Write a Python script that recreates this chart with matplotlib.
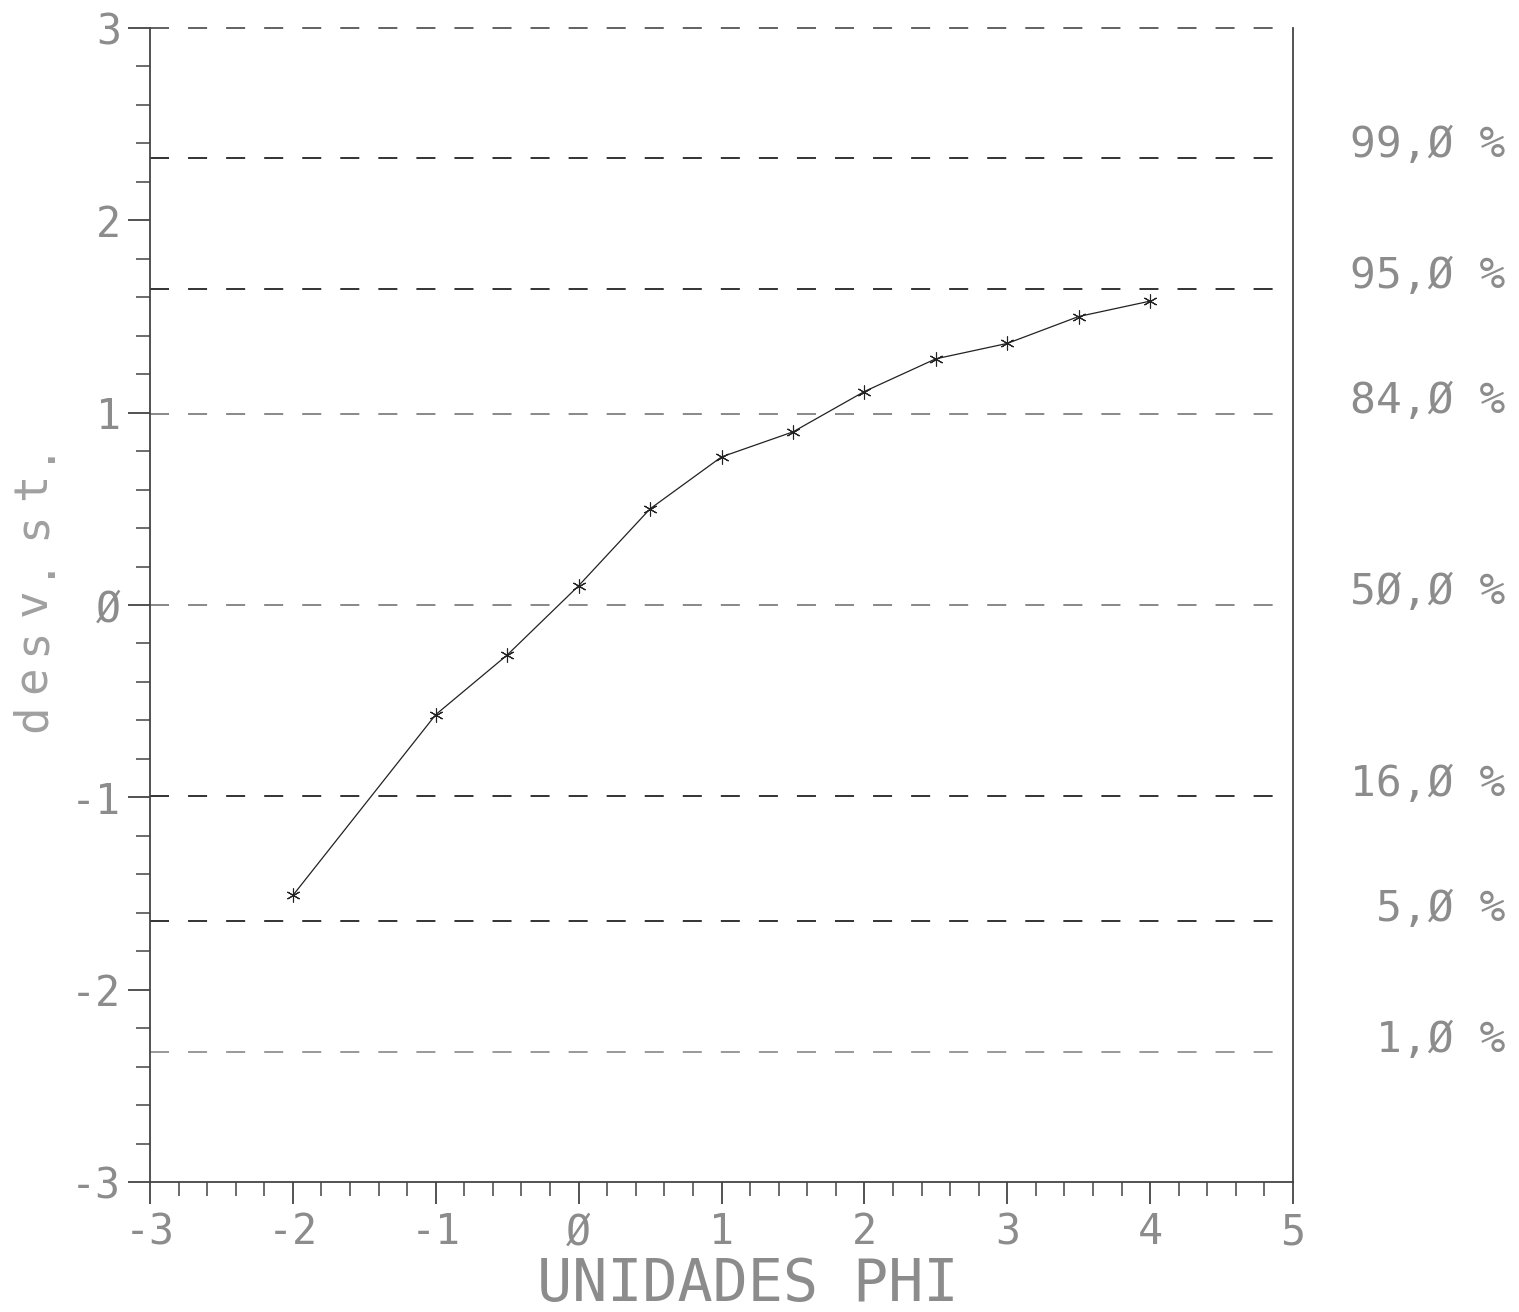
import matplotlib.pyplot as plt
from matplotlib.ticker import MultipleLocator, FixedLocator

# cumulative curve
phi = [-2, -1, -0.5, 0, 0.5, 1, 1.5, 2, 2.5, 3, 3.5, 4]
desv = [-1.51, -0.57, -0.26, 0.10, 0.50, 0.77, 0.90, 1.11, 1.28, 1.36, 1.50, 1.58]

# reference percentiles (in standard deviations)
pct_labels = ['99,Ø %', '95,Ø %', '84,Ø %', '5Ø,Ø %', '16,Ø %', '5,Ø %', '1,Ø %']
pct_z = [2.326, 1.645, 0.994, 0.0, -0.994, -1.645, -2.326]

xticks = [-3, -2, -1, 0, 1, 2, 3, 4, 5]
xticklabels = ['-3', '-2', '-1', 'Ø', '1', '2', '3', '4', '5']
yticks = [-3, -2, -1, 0, 1, 2, 3]
yticklabels = ['-3', '-2', '-1', 'Ø', '1', '2', '3']

mono = 'DejaVu Sans Mono'
txt_col = '#8c8c8c'
plt.rcParams['lines.scale_dashes'] = False
dash = (0, (13.7, 13.7))

fig = plt.figure(figsize=(15.19, 13.12), dpi=100)
ax = fig.add_axes([150 / 1519, 1 - 1182 / 1312, (1293 - 150) / 1519, (1182 - 28) / 1312])
ax.set_xlim(-3, 5)
ax.set_ylim(-3, 3)

# dashed percentile lines (plus the top one at 3)
line_cols = ['#333333', '#333333', '#888888', '#888888', '#333333', '#333333', '#999999']
ax.hlines(3, -3, 4.875, colors='#555555', linestyles=dash, linewidth=1.3, clip_on=False)
for z, c in zip(pct_z, line_cols):
    ax.hlines(z, -3, 4.875, colors=c, linestyles=dash, linewidth=1.4)

ax.plot(phi, desv, color='#222222', linewidth=0.9, marker=(6, 2, 0),
        markersize=10, markeredgewidth=0.8)

for lab, z in zip(pct_labels, pct_z):
    ax.annotate(lab, xy=(1.0, z), xycoords=('figure fraction', 'data'),
                xytext=(-10, 9), textcoords='offset points',
                ha='right', va='center', fontsize=31, family=mono, color=txt_col)

ax.spines['top'].set_visible(False)
for s in ['left', 'bottom', 'right']:
    ax.spines[s].set_color('#444444')
    ax.spines[s].set_linewidth(1.3)

ax.xaxis.set_major_locator(FixedLocator(xticks))
ax.xaxis.set_minor_locator(MultipleLocator(0.2))
ax.yaxis.set_major_locator(FixedLocator(yticks))
ax.yaxis.set_minor_locator(MultipleLocator(0.2))
ax.set_xticklabels(xticklabels, family=mono, fontsize=30, color=txt_col)
ax.set_yticklabels(yticklabels, family=mono, fontsize=30, color=txt_col)
ax.tick_params(which='major', direction='out', length=16, width=1.3, color='#444444', pad=5)
ax.tick_params(which='minor', direction='out', length=10, width=1.1, color='#444444')

fig.text(748 / 1519, 1 - 1284 / 1312, 'UNIDADES PHI', family=mono, fontsize=42,
         color=txt_col, ha='center', va='center')

# rotated y label, plotter style with wide letter spacing
ylab = 'desv.st.'
for i, ch in enumerate(ylab):
    fig.text(33 / 1519, 1 - (718 - 38.6 * i) / 1312, ch, family=mono, fontsize=33,
             color='#a0a0a0', ha='center', va='center', rotation=90)

fig.savefig('out.png', dpi=100)
